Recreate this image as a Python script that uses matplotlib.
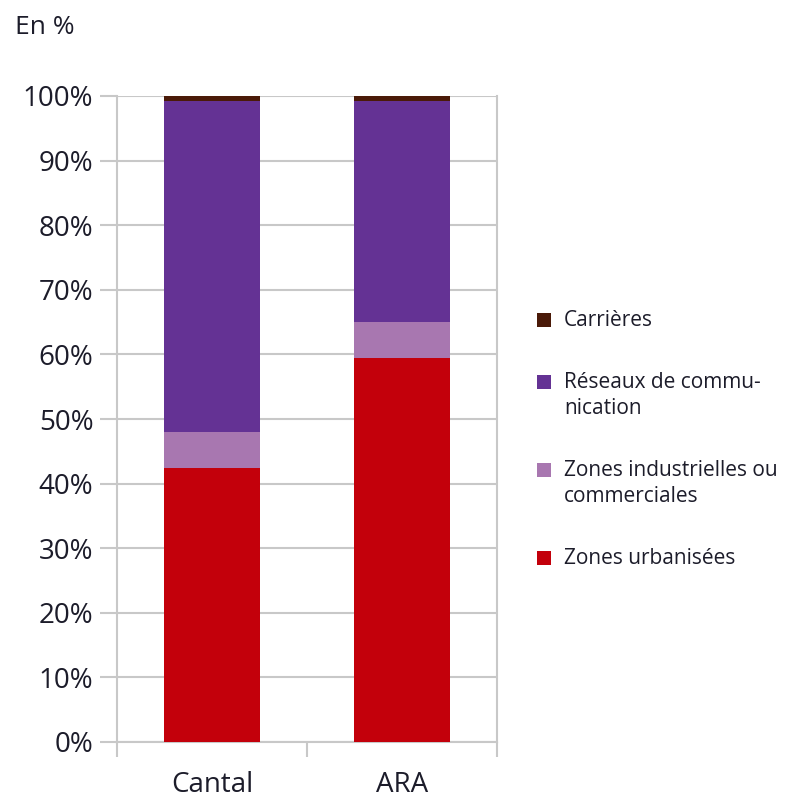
import matplotlib.pyplot as plt
from matplotlib.patches import Rectangle
import numpy as np

# Data (percent of artificialised land)
zones = ['Cantal', 'ARA']
zones_urbanisees = [42.4, 59.4]
zones_industrielles = [5.6, 5.6]
reseaux = [51.2, 34.2]
carrieres = [0.8, 0.8]

series_labels = ['Zones urbanisées', 'Zones industrielles ou\ncommerciales',
                 'Réseaux de commu-\nnication', 'Carrières']
series_colors = ['#c3000b', '#a877b0', '#643294', '#4a1a08']
yticks = [0, 10, 20, 30, 40, 50, 60, 70, 80, 90, 100]

plt.rcParams['font.family'] = ['Open Sans', 'DejaVu Sans']
text_color = '#1c1c2a'
grid_color = '#c8c8c8'

W, H = 797, 800
fig = plt.figure(figsize=(W / 100, H / 100), dpi=100)
ax = fig.add_axes([117 / W, 1 - 742 / H, 380 / W, 646 / H])

x = np.arange(len(zones))
bottom = np.zeros(len(zones))
for vals, col in zip([zones_urbanisees, zones_industrielles, reseaux, carrieres], series_colors):
    ax.bar(x, vals, width=0.505, bottom=bottom, color=col, zorder=3)
    bottom += np.array(vals)

ax.set_xlim(-0.5, 1.5)
ax.set_ylim(0, 100)
ax.set_yticks(yticks)
ax.set_yticklabels([f'{v}%' for v in yticks], fontsize=20, color=text_color)
ax.yaxis.grid(True, color=grid_color, linewidth=1.5, zorder=0)

# category ticks sit on the boundaries between groups
ax.set_xticks([-0.5, 0.5, 1.5])
ax.set_xticklabels([])
ax.set_xticks(x, minor=True)
ax.set_xticklabels(zones, minor=True, fontsize=20, color=text_color)
ax.tick_params(axis='x', which='minor', length=0, pad=21)
ax.tick_params(axis='x', which='major', length=11, width=1.5, color=grid_color, direction='out')
ax.tick_params(axis='y', length=12, width=1.5, color=grid_color, pad=5)

for side in ['left', 'bottom', 'right', 'top']:
    ax.spines[side].set_color(grid_color)
    ax.spines[side].set_linewidth(1.5)
ax.spines['top'].set_visible(False)

# legend drawn by hand: square aligned with the first line of each label
y_px = 320
line_h = 26
for label, col in zip(series_labels[::-1], series_colors[::-1]):
    lines = label.split('\n')
    fig.patches.append(Rectangle((537 / W, 1 - (y_px + 7) / H), 14 / W, 14 / H,
                                 transform=fig.transFigure, facecolor=col,
                                 edgecolor='none'))
    for i, line in enumerate(lines):
        fig.text(564 / W, 1 - (y_px + i * line_h) / H, line, fontsize=15,
                 color=text_color, va='center', ha='left')
    y_px += line_h * (len(lines) - 1) + 62

fig.text(15 / W, 1 - 28 / H, 'En %', fontsize=19, color=text_color, va='center')

fig.savefig('out.png', dpi=100)
